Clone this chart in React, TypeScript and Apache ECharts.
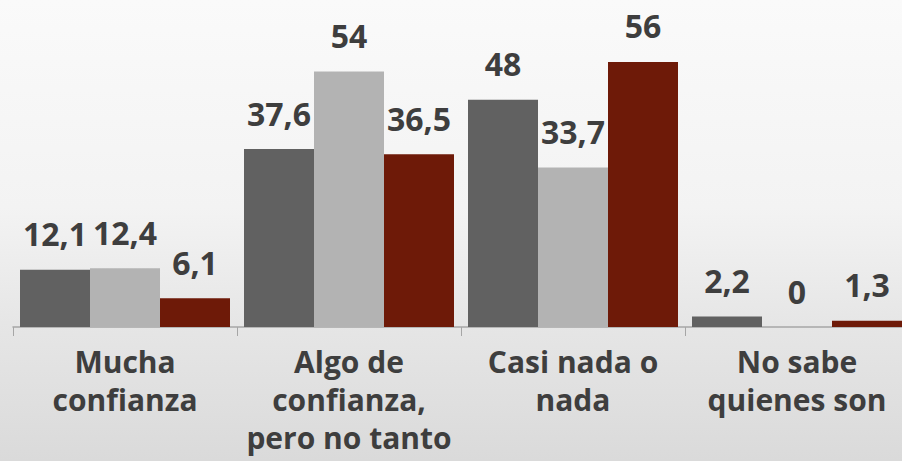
import React, { useEffect, useRef } from "react";
import * as echarts from "echarts";

const categories = [
  "Mucha\nconfianza",
  "Algo de\nconfianza,\npero no tanto",
  "Casi nada o\nnada",
  "No sabe\nquienes son",
];
const seriesA = [12.1, 37.6, 48, 2.2];
const seriesB = [12.4, 54, 33.7, 0];
const seriesC = [6.1, 36.5, 56, 1.3];
const seriesNames = ["Serie 1", "Serie 2", "Serie 3"];
const colors = ["#616161", "#b3b3b3", "#6e1a08"];

export default function App() {
  const ref = useRef<HTMLDivElement>(null);
  useEffect(() => {
    if (!ref.current) return;
    const chart = echarts.init(ref.current, null, { renderer: "svg" });
    const label = {
      show: true,
      position: "top",
      distance: 20,
      fontFamily: "Open Sans",
      fontWeight: 700,
      fontSize: 32,
      color: "#3e3e3e",
      formatter: (p: any) => String(p.value).replace(".", ","),
    };
    const data = [seriesA, seriesB, seriesC];
    chart.setOption({
      animation: false,
      backgroundColor: new echarts.graphic.LinearGradient(0, 0, 0, 1, [
        { offset: 0, color: "#fafafa" },
        { offset: 0.45, color: "#f3f3f3" },
        { offset: 0.7, color: "#e6e6e6" },
        { offset: 1, color: "#dadada" },
      ]),
      grid: {
        left: 13,
        width: 896,
        top: 43,
        height: 284,
        containLabel: false,
        outerBoundsMode: "none",
      },
      xAxis: {
        type: "category",
        data: categories,
        axisLine: { show: true, lineStyle: { color: "#a6a6a6", width: 1.5 } },
        axisTick: { show: true, length: 9, lineStyle: { color: "#a6a6a6" } },
        axisLabel: {
          interval: 0,
          margin: 15,
          fontFamily: "Open Sans",
          fontWeight: 700,
          fontSize: 30,
          lineHeight: 38,
          color: "#3e3e3e",
        },
      },
      yAxis: {
        type: "value",
        min: 0,
        max: 60,
        show: false,
        splitLine: { show: false },
      },
      series: data.map((d, i) => ({
        type: "bar",
        name: seriesNames[i],
        data: d,
        barGap: "0%",
        barCategoryGap: "6.25%",
        itemStyle: { color: colors[i] },
        label,
      })),
    });
    return () => chart.dispose();
  }, []);
  return (
    <div
      ref={ref}
      style={{ position: "fixed", left: 0, top: 0, width: 902, height: 461 }}
    />
  );
}
